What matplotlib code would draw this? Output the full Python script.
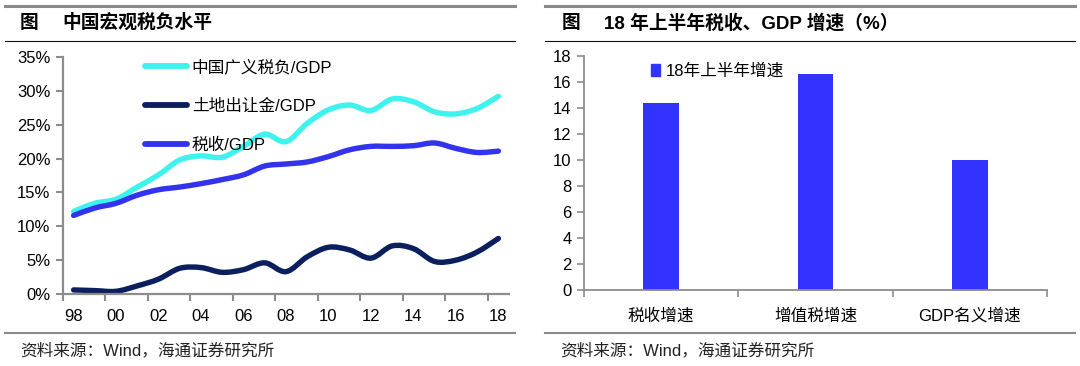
import numpy as np
import matplotlib
matplotlib.use("Agg")
import matplotlib.pyplot as plt
from matplotlib.path import Path
from matplotlib.patches import PathPatch, Patch
from matplotlib.lines import Line2D
from matplotlib.ticker import FixedLocator, FuncFormatter

plt.rcParams["font.family"] = ["Liberation Sans", "Noto Sans CJK SC"]

# ── data ──────────────────────────────────────────────────────────────────────
years = list(range(1998, 2019))
broad_tax = [12.2, 13.4, 14.0, 15.8, 17.6, 19.8, 20.4, 20.2, 21.8, 23.6, 22.5,
             25.2, 27.2, 27.9, 27.1, 28.8, 28.4, 26.9, 26.6, 27.4, 29.2]
land_sale = [0.6, 0.5, 0.4, 1.2, 2.2, 3.8, 3.9, 3.2, 3.6, 4.6, 3.3,
             5.5, 6.9, 6.5, 5.3, 7.1, 6.7, 4.8, 5.0, 6.2, 8.2]
tax_gdp = [11.6, 12.7, 13.4, 14.6, 15.4, 15.8, 16.3, 16.9, 17.6, 18.9, 19.2,
           19.5, 20.3, 21.3, 21.8, 21.8, 21.9, 22.3, 21.5, 20.9, 21.1]
series_names = ["中国广义税负/GDP", "土地出让金/GDP", "税收/GDP"]

bar_cats = ["税收增速", "增值税增速", "GDP名义增速"]
bar_vals = [14.4, 16.6, 10.0]
bar_name = "18年上半年增速"

C_CYAN, C_NAVY, C_BLUE = "#3ef2ee", "#0b1f5e", "#3333ee"
C_BAR = "#3333ff"
C_AX = "#8c8c8c"

W, H = 1080, 366
fig = plt.figure(figsize=(W / 100, H / 100), dpi=100)


def rect(x0, x1, y_top, y_bot):
    return [x0 / W, 1 - y_bot / H, (x1 - x0) / W, (y_bot - y_top) / H]


def smooth_path(x, y):
    # Excel-style smoothed line: Catmull-Rom segments as cubic Beziers
    p = np.column_stack([x, y]).astype(float)
    verts, codes = [p[0]], [Path.MOVETO]
    n = len(p)
    for i in range(n - 1):
        p0 = p[max(i - 1, 0)]
        p3 = p[min(i + 2, n - 1)]
        c1 = p[i] + (p[i + 1] - p0) / 6
        c2 = p[i + 1] - (p3 - p[i]) / 6
        verts += [c1, c2, p[i + 1]]
        codes += [Path.CURVE4] * 3
    return Path(verts, codes)


# ── frames, titles, sources ──────────────────────────────────────────────────
for x0, x1 in [(5, 515), (545, 1075)]:
    fig.add_artist(Line2D([x0 / W, x1 / W], [1 - 6 / H] * 2, color="#8a8a8a", lw=2.2))
    fig.add_artist(Line2D([x0 / W, x1 / W], [1 - 41 / H] * 2, color="#111111", lw=0.8))
    fig.add_artist(Line2D([x0 / W, x1 / W], [1 - 333 / H] * 2, color="#8a8a8a", lw=1.5))

fig.text(20 / W, 1 - 23 / H, "图", fontsize=13.5, fontweight="bold", va="center")
fig.text(62 / W, 1 - 23 / H, "中国宏观税负水平", fontsize=13.5, fontweight="bold", va="center")
fig.text(562 / W, 1 - 23 / H, "图", fontsize=13.5, fontweight="bold", va="center")
fig.text(604 / W, 1 - 23 / H, "18 年上半年税收、GDP 增速（%）", fontsize=13.5,
         fontweight="bold", va="center")
for x in (20, 560):
    fig.text(x / W, 1 - 350 / H, "资料来源：Wind，海通证券研究所", fontsize=12,
             color="#222222", va="center")

# ── left: macro tax burden ───────────────────────────────────────────────────
ax = fig.add_axes(rect(63, 509, 57, 294))
for vals, col, lab in zip([broad_tax, land_sale, tax_gdp],
                          [C_CYAN, C_NAVY, C_BLUE], series_names):
    ax.add_patch(PathPatch(smooth_path(years, np.array(vals) / 100), fill=False,
                           edgecolor=col, lw=3.9, capstyle="round", joinstyle="round"))
ax.set_xlim(1997.5, 2018.5)
ax.set_ylim(0, 0.35)
ax.yaxis.set_major_locator(FixedLocator(np.arange(0, 0.351, 0.05)))
ax.yaxis.set_major_formatter(FuncFormatter(lambda v, _: f"{v * 100:.0f}%"))
ax.xaxis.set_major_locator(FixedLocator(np.arange(1997.5, 2019, 2)))
ax.xaxis.set_major_formatter(FuncFormatter(lambda v, _: ""))
ax.xaxis.set_minor_locator(FixedLocator(years[::2]))
ax.xaxis.set_minor_formatter(FuncFormatter(lambda v, _: f"{int(v) % 100:02d}"))
ax.tick_params(axis="x", which="minor", length=0, pad=11, labelsize=12)
ax.tick_params(axis="x", which="major", length=5, width=1.5, color=C_AX)
ax.tick_params(axis="y", length=5, width=1.5, color=C_AX, pad=4, labelsize=12)
for s in ("top", "right"):
    ax.spines[s].set_visible(False)
for s in ("left", "bottom"):
    ax.spines[s].set_color(C_AX)
    ax.spines[s].set_linewidth(1.6)
handles = [Line2D([], [], color=c, lw=4.2, solid_capstyle="round")
           for c in (C_CYAN, C_NAVY, C_BLUE)]
ax.legend(handles, series_names, loc="upper left", bbox_to_anchor=(0.184, 0.99),
          frameon=False, fontsize=12, borderpad=0, borderaxespad=0,
          handlelength=2.5, handletextpad=0.3, labelspacing=1.42)

# ── right: H1 2018 growth ────────────────────────────────────────────────────
bx = fig.add_axes(rect(584, 1047, 56, 290))
pos = np.arange(len(bar_cats))
bx.bar(pos, bar_vals, width=0.23, color=C_BAR, label=bar_name)
bx.set_xlim(-0.5, len(bar_cats) - 0.5)
bx.set_ylim(0, 18)
bx.set_yticks(np.arange(0, 19, 2))
bx.xaxis.set_major_locator(FixedLocator(np.arange(-0.5, len(bar_cats), 1)))
bx.xaxis.set_major_formatter(FuncFormatter(lambda v, _: ""))
bx.xaxis.set_minor_locator(FixedLocator(pos))
bx.xaxis.set_minor_formatter(FuncFormatter(lambda v, _: bar_cats[int(round(v))]))
bx.tick_params(axis="x", which="minor", length=0, pad=13, labelsize=12)
bx.tick_params(axis="x", which="major", length=5, width=1.2, color=C_AX)
bx.tick_params(axis="y", length=5, width=1.2, color=C_AX, pad=4, labelsize=12)
for s in ("top", "right"):
    bx.spines[s].set_visible(False)
for s in ("left", "bottom"):
    bx.spines[s].set_color(C_AX)
    bx.spines[s].set_linewidth(1.3)
bx.legend([Patch(color=C_BAR)], [bar_name], loc="upper left",
          bbox_to_anchor=(0.145, 0.97), frameon=False, fontsize=12, borderpad=0,
          borderaxespad=0, handlelength=0.55, handleheight=0.75, handletextpad=0.3)

fig.savefig("out.png", dpi=100)
